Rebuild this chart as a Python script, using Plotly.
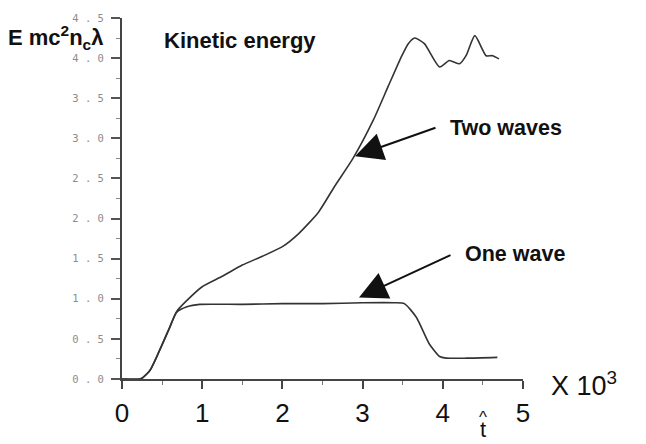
import plotly.graph_objects as go

# Data (t in units of 10^3, energy in mc^2 n_c lambda)
t_two = [0.0, 0.20, 0.25, 0.35, 0.47, 0.60, 0.68, 0.80, 1.00, 1.25, 1.50, 1.75, 2.00,
         2.20, 2.45, 2.65, 2.88, 3.13, 3.32, 3.48, 3.57, 3.65, 3.77, 3.96, 4.08,
         4.21, 4.29, 4.40, 4.54, 4.62, 4.70]
e_two = [0.0, 0.0, 0.01, 0.11, 0.36, 0.66, 0.84, 0.97, 1.15, 1.28, 1.42, 1.53, 1.65,
         1.81, 2.08, 2.40, 2.75, 3.22, 3.65, 4.01, 4.18, 4.25, 4.18, 3.89, 3.97,
         3.93, 4.03, 4.28, 4.03, 4.03, 3.99]

t_one = [0.0, 0.23, 0.35, 0.47, 0.60, 0.68, 0.81, 0.97, 1.50, 2.00, 2.50, 3.00, 3.40,
         3.52, 3.67, 3.83, 3.96, 4.04, 4.30, 4.68]
e_one = [0.0, 0.0, 0.11, 0.36, 0.65, 0.83, 0.90, 0.93, 0.93, 0.94, 0.94, 0.95, 0.95,
         0.94, 0.77, 0.44, 0.28, 0.26, 0.26, 0.27]

x_ticks = [0, 1, 2, 3, 4, 5]
y_ticks = [0.0, 0.5, 1.0, 1.5, 2.0, 2.5, 3.0, 3.5, 4.0, 4.5]

W, H = 646, 444
L, R, T, B = 122, 123, 16, 65
PW, PH = W - L - R, H - T - B


def px(x):
    return (x - L) / PW


def py(y):
    return (H - B - y) / PH


line_col = "#333333"
fig = go.Figure()
fig.add_trace(go.Scatter(x=t_two, y=e_two, mode="lines", name="Two waves",
                         line=dict(color=line_col, width=1.6, shape="spline", smoothing=0.6)))
fig.add_trace(go.Scatter(x=t_one, y=e_one, mode="lines", name="One wave",
                         line=dict(color=line_col, width=1.6, shape="spline", smoothing=0.6)))

fig.update_layout(
    width=W, height=H,
    margin=dict(l=L, r=R, t=T, b=B),
    paper_bgcolor="white", plot_bgcolor="white",
    showlegend=False,
    font=dict(family="Liberation Sans, Arial, sans-serif", color="#111"),
    xaxis=dict(range=[0, 5], tickvals=x_ticks, ticktext=[str(v) for v in x_ticks],
               showgrid=False, zeroline=False, showline=True, linecolor="#444", linewidth=2,
               ticks="outside", ticklen=8, tickwidth=2, tickcolor="#444",
               minor=dict(dtick=0.5, ticks="outside", ticklen=4, tickwidth=1, tickcolor="#777"),
               tickfont=dict(size=26, color="#111"), ticklabelstandoff=2),
    yaxis=dict(range=[0, 4.5], tickvals=y_ticks,
               ticktext=[f"{v:.1f}".replace(".", " . ") for v in y_ticks],
               showgrid=False, zeroline=False, showline=True, linecolor="#444", linewidth=2,
               ticks="outside", ticklen=9, tickwidth=2, tickcolor="#555",
               minor=dict(dtick=0.25, ticks="outside", ticklen=4, tickwidth=1, tickcolor="#888"),
               tickfont=dict(family="DejaVu Sans Mono, monospace", size=10.5, color="#8c8c8c"),
               ticklabelstandoff=5),
)

anns = [
    dict(x=px(6), y=py(36), text="<b>E mc<sup>2</sup>n<sub>c</sub>λ</b>", xanchor="left",
         font=dict(size=22)),
    dict(x=px(162), y=py(39), text="<b>Kinetic energy</b>", xanchor="left", font=dict(size=22)),
    dict(x=px(448), y=py(127), text="<b>Two waves</b>", xanchor="left", font=dict(size=21.5)),
    dict(x=px(463), y=py(253), text="<b>One wave</b>", xanchor="left", font=dict(size=21.5)),
    dict(x=px(549), y=py(384), text="X 10<sup>3</sup>", xanchor="left", font=dict(size=27)),
    dict(x=px(483), y=py(418), text="^", xanchor="center", font=dict(size=17)),
    dict(x=px(483), y=py(430), text="t", xanchor="center", font=dict(size=22)),
]
for a in anns:
    a.update(xref="paper", yref="paper", showarrow=False, yanchor="middle")
    fig.add_annotation(**a)

# arrows (tail pixel, head pixel)
for (tx, ty, hx, hy) in [(437, 126, 355, 155), (452, 254, 359, 297)]:
    fig.add_annotation(xref="paper", yref="paper", axref="pixel", ayref="pixel",
                       x=px(hx), y=py(hy), ax=tx - hx, ay=ty - hy, text="",
                       showarrow=True, arrowhead=2, arrowsize=2.8, arrowwidth=2,
                       arrowcolor="#111")

fig.write_html("out.html")
